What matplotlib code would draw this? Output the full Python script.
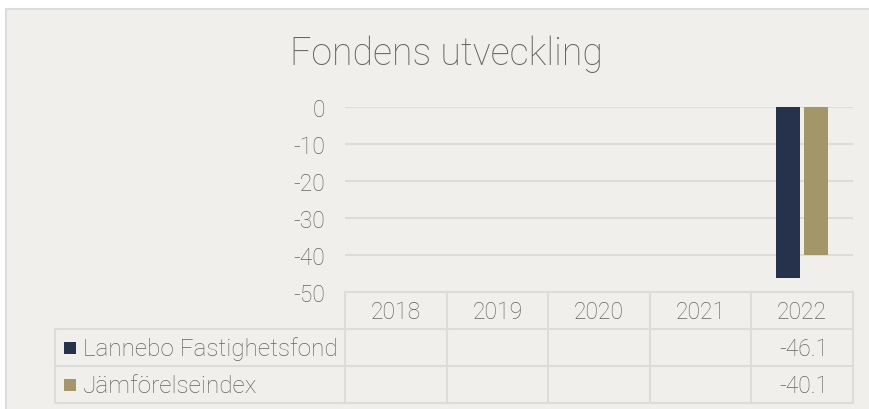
import numpy as np
import matplotlib.pyplot as plt
from matplotlib.patches import Rectangle

years = ["2018", "2019", "2020", "2021", "2022"]
series_names = ["Lannebo Fastighetsfond", "Jämförelseindex"]
fund = [np.nan, np.nan, np.nan, np.nan, -46.1]
index = [np.nan, np.nan, np.nan, np.nan, -40.1]
colors = ["#26314b", "#a39669"]

W, H = 870, 410
bg = "#f0efec"
grid_c = "#dedcda"
text_c = "#666266"

plt.rcParams["font.family"] = ["Roboto", "DejaVu Sans"]
plt.rcParams["axes.unicode_minus"] = False

fig = plt.figure(figsize=(W / 100, H / 100), dpi=100)
fig.patch.set_facecolor("white")

# overlay in pixel coordinates for frame and table
over = fig.add_axes([0, 0, 1, 1], zorder=0)
over.set_xlim(0, W)
over.set_ylim(H, 0)
over.axis("off")
over.add_patch(Rectangle((6, 10), W + 10, H, facecolor=bg, edgecolor="#dcdcdc", lw=1.5))

# plot area
left, right, top, bottom = 345, 853, 108, 293
ax = fig.add_axes([left / W, 1 - bottom / H, (right - left) / W, (bottom - top) / H], zorder=1)
ax.set_facecolor("none")
x = np.arange(len(years))
w = 0.236
ax.bar(x - 0.14, fund, w, color=colors[0], zorder=3)
ax.bar(x + 0.14, index, w, color=colors[1], zorder=3)
ax.set_xlim(-0.5, len(years) - 0.5)
ax.set_ylim(-50, 0)
ax.set_yticks(np.arange(-50, 1, 10))
ax.yaxis.grid(True, color=grid_c, lw=1.5)
ax.set_axisbelow(True)
ax.set_xticks([])
for s in ax.spines.values():
    s.set_visible(False)
ax.tick_params(axis="y", length=0, pad=14, labelsize=16.5, labelcolor=text_c)
for t in ax.get_yticklabels():
    t.set_fontweight("light")

fig.text(446 / W, 1 - 65 / H, "Fondens utveckling", ha="center", va="baseline",
         fontsize=27, color=text_c, fontweight="light")

# data table
col_w = (right - left) / len(years)
row_h = 37
lab_left = 55
y0 = bottom
lk = dict(color=grid_c, lw=1.5)
over.plot([left, right], [y0, y0], **lk)
for r in range(1, 4):
    yy = y0 + r * row_h
    over.plot([lab_left, right], [yy, yy], **lk)
for c in range(len(years) + 1):
    xx = left + c * col_w
    over.plot([xx, xx], [y0, y0 + 3 * row_h], **lk)
over.plot([lab_left, lab_left], [y0 + row_h, y0 + 3 * row_h], **lk)

for c, yr in enumerate(years):
    over.text(left + (c + 0.5) * col_w, y0 + row_h / 2 + 1, yr, ha="center", va="center",
              fontsize=16.5, color=text_c, fontweight="light")

for r, (name, vals) in enumerate(zip(series_names, [fund, index])):
    yc = y0 + (r + 1.5) * row_h
    over.add_patch(Rectangle((64, yc - 6), 12, 12, facecolor=colors[r], edgecolor="none"))
    over.text(83, yc + 1, name, ha="left", va="center", fontsize=17.5, color=text_c, fontweight="light")
    for c, v in enumerate(vals):
        if not np.isnan(v):
            over.text(left + (c + 1) * col_w - 24, yc + 1, f"{v:.1f}", ha="right", va="center",
                      fontsize=16.5, color=text_c, fontweight="light")

fig.savefig("out.png", dpi=100, facecolor="white")
